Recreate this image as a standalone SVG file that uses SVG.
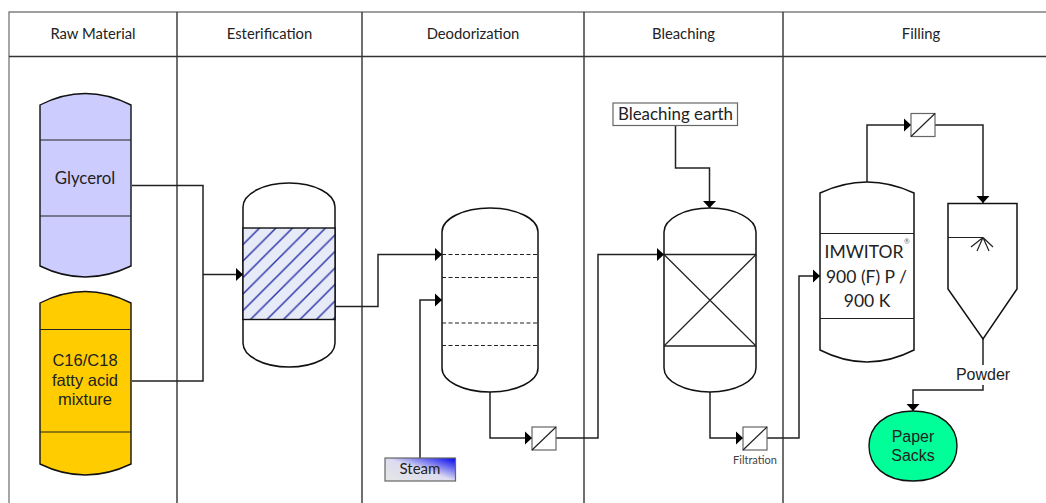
<svg xmlns="http://www.w3.org/2000/svg" width="1046" height="503" viewBox="0 0 1046 503">
<defs>
<linearGradient id="steamGrad" x1="0" y1="1" x2="1" y2="0"><stop offset="0" stop-color="#e6e6e6"/><stop offset="0.5" stop-color="#dcdcf0"/><stop offset="1" stop-color="#0000f0"/></linearGradient>
<pattern id="hatch" width="16.5" height="16.5" patternUnits="userSpaceOnUse" patternTransform="translate(243 228)">
<rect width="16.5" height="16.5" fill="#e6ebf7"/>
<path d="M-2 18.5L18.5 -2M-2 2L2 -2M14.5 18.5L18.5 14.5" stroke="#2c30a8" stroke-width="1.4" fill="none"/>
</pattern>
<marker id="arrow" markerUnits="userSpaceOnUse" markerWidth="8" markerHeight="14" refX="7" refY="7" orient="auto"><path d="M0 0.5L7 7L0 13.5Z" fill="#000"/></marker>
</defs>
<style>
.v{fill:#fff;stroke:#111;stroke-width:1.5}
.l{fill:none;stroke:#222;stroke-width:1.2}
.c{fill:none;stroke:#222;stroke-width:1.5}
.a{marker-end:url(#arrow)}
.d{fill:none;stroke:#222;stroke-width:1.1;stroke-dasharray:4 2.5}
.g{fill:none;stroke:#333;stroke-width:1.4}
.b{fill:none;stroke:#808080;stroke-width:1.4}
.t{font-family:"Liberation Sans",Arial,sans-serif;font-size:16.5px;text-anchor:middle;fill:#222}
.p{font-family:"Liberation Sans",Arial,sans-serif;font-size:16px;text-anchor:middle;fill:#222}
.o{font-family:Lato,"Liberation Sans",sans-serif;text-anchor:middle;fill:#222}
.h{font-size:14.8px}
.f{fill:#fff;stroke:#666;stroke-width:1.2}
</style>
<g id="swimlanes">
<path class="b" d="M9 503V12H1046"/>
<path class="g" d="M9 56.500H1046M177 12V503M362 12V503M584 12V503M783 12V503"/>
<text class="o h" x="93" y="39">Raw Material</text>
<text class="o h" x="269.500" y="39">Esterification</text>
<text class="o h" x="473" y="39">Deodorization</text>
<text class="o h" x="683.500" y="39">Bleaching</text>
<text class="o h" x="921" y="39">Filling</text>
</g>
<g id="connectors">
<path class="c" d="M132 185.500H203V381H132"/>
<path class="c a" d="M203 274.500H243"/>
<path class="c a" d="M335 306.500H378V254.500H442"/>
<path class="c a" d="M420 458V300H442"/>
<path class="c a" d="M490 392V438H532"/>
<path class="c a" d="M556 438H598V254.500H664"/>
<path class="c a" d="M675.500 126V168H709.500V208"/>
<path class="c a" d="M710 392V438H743"/>
<path class="c a" d="M767 438H799V276H820"/>
<path class="c a" d="M867 182V125H911"/>
<path class="c a" d="M935 125H983V203"/>
<path class="c" d="M983 339V365"/>
<path class="c a" d="M983 385V390H913V411"/>
</g>
<g id="glycerol">
<path d="M40 105Q85 82 131 105V266Q85 288 40 266Z" fill="#ccccff" stroke="#111" stroke-width="1.4"/>
<path class="l" d="M40 140H131M40 216H131"/>
<text class="o" style="font-size:16.800px" x="85" y="184">Glycerol</text>
</g>
<g id="fatty-acid">
<path d="M40 303Q85 280 131 303V464Q85 486 40 464Z" fill="#ffcc00" stroke="#111" stroke-width="1.4"/>
<path class="l" d="M40 329.500H131M40 432H131"/>
<text class="t" x="85" y="366">C16/C18</text>
<text class="t" x="85" y="386">fatty acid</text>
<text class="t" x="85" y="405">mixture</text>
</g>
<g id="esterification-reactor">
<path class="v" d="M243 207A46 24 0 0 1 335 207V343A46 24 0 0 1 243 343Z"/>
<rect x="243" y="228" width="92" height="91.500" fill="url(#hatch)" stroke="#111" stroke-width="1.4"/>
</g>
<g id="deodorization-column">
<path class="v" d="M442 232A48 24 0 0 1 538 232V368A48 24 0 0 1 442 368Z"/>
<path class="d" d="M442 254.500H538M442 277.500H538M442 323H538M442 345.500H538"/>
</g>
<g id="filter-1">
<rect class="f" x="532" y="427" width="24" height="23"/>
<path class="l" d="M532 450L556 427"/>
</g>
<g id="steam">
<rect x="385" y="458" width="70.500" height="23" fill="url(#steamGrad)" stroke="#666" stroke-width="1.2"/>
<text class="o" style="font-size:15px" x="420" y="474">Steam</text>
</g>
<g id="bleaching-earth">
<rect class="f" x="613" y="103" width="124.500" height="22.500"/>
<text class="o" style="font-size:16.900px" x="675.500" y="120">Bleaching earth</text>
</g>
<g id="bleaching-reactor">
<path class="v" d="M664 232A46 24 0 0 1 756 232V368A46 24 0 0 1 664 368Z"/>
<path class="c" d="M664 254.500H756M664 346H756"/>
<path class="l" d="M664 254.500L756 346M756 254.500L664 346"/>
</g>
<g id="filter-2">
<rect class="f" x="743" y="427" width="24" height="23"/>
<path class="l" d="M743 450L767 427"/>
<text class="o" style="font-size:11px;fill:#444" x="755" y="464">Filtration</text>
</g>
<g id="filter-3">
<rect class="f" x="911" y="113.500" width="24" height="23"/>
<path class="l" d="M911 136.500L935 113.500"/>
</g>
<g id="product-tank">
<path class="v" d="M820 193Q867 171 914 193V350Q867 374 820 350Z"/>
<path class="l" d="M820 233.500H914M820 318.500H914"/>
<text class="o" style="font-size:17.500px" x="864" y="258">IMWITOR</text>
<text class="o" style="font-size:7px;fill:#666" x="907" y="244">®</text>
<text class="o" style="font-size:17.500px" x="866.500" y="283">900 (F) P /</text>
<text class="o" style="font-size:17.500px" x="867" y="307">900 K</text>
</g>
<g id="spray-dryer">
<path class="v" d="M948 203.500H1017V289L983 339L948 289Z"/>
<path class="l" d="M948 237.500H983M983 237.500L971 247M983 237.500L993 247M983 237.500L977 251M983 237.500L989 251"/>
</g>
<g id="powder"><text class="p" x="983" y="380">Powder</text></g>
<g id="paper-sacks">
<path d="M913 411C942 411 957 427 957 446C957 465 942 481 913 481C884 481 869 465 869 446C869 427 884 411 913 411Z" fill="#00ff99" stroke="#111" stroke-width="1.4"/>
<text class="p" x="913" y="442">Paper</text>
<text class="p" x="913" y="461">Sacks</text>
</g>
</svg>
